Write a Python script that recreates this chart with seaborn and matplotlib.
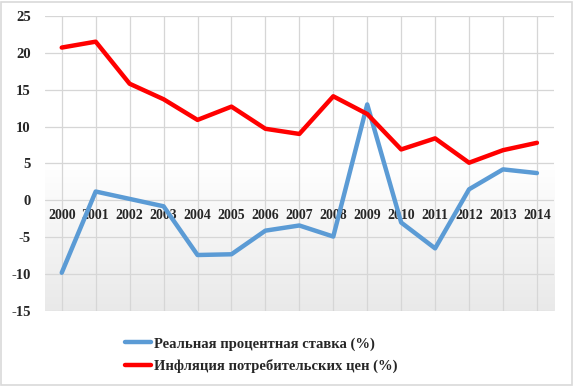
import numpy as np
import pandas as pd
import matplotlib
matplotlib.use("Agg")
from matplotlib import pyplot as plt
from matplotlib.patches import Rectangle
import seaborn as sns

sns.set_style("white")
plt.rcParams['font.family'] = ['Liberation Serif', 'DejaVu Serif']
plt.rcParams['font.weight'] = 'bold'

# data
years = list(range(2000, 2015))
real_rate = [-9.8, 1.2, 0.2, -0.8, -7.4, -7.3, -4.1, -3.4, -4.9, 13.0, -3.0, -6.5, 1.5, 4.2, 3.7]
inflation = [20.7, 21.5, 15.8, 13.7, 10.9, 12.7, 9.7, 9.0, 14.1, 11.7, 6.9, 8.4, 5.1, 6.8, 7.8]
name_real = "Реальная процентная ставка (%)"
name_infl = "Инфляция потребительских цен (%)"

df = pd.DataFrame({"year": years, name_real: real_rate, name_infl: inflation})
long_df = df.melt(id_vars="year", var_name="series", value_name="value")

fig = plt.figure(figsize=(5.74, 3.86), dpi=100)
ax = fig.add_axes([0.078, 0.194, 0.887, 0.765])

# soft vertical gradient background
grad = np.linspace(0, 1, 256).reshape(-1, 1)
ax.imshow(grad, extent=[1999.5, 2014.5, -15, 25], aspect='auto',
          cmap=matplotlib.colors.LinearSegmentedColormap.from_list("g", ["#ffffff", "#ffffff", "#e9e9e9"]),
          origin='upper', zorder=0)

sns.lineplot(data=long_df, x="year", y="value", hue="series",
             palette={name_real: "#5b9bd5", name_infl: "#ff0000"},
             linewidth=3.2, ax=ax, legend=False, zorder=3)

ax.set_xlim(1999.5, 2014.5)
ax.set_ylim(-15, 25)
ax.set_yticks(range(-15, 26, 5))
ax.set_xticks(years)
ax.set_xticklabels([str(y) for y in years], fontsize=10.5, fontweight='bold')
ax.set_yticklabels([str(v) for v in range(-15, 26, 5)], fontsize=10.5, fontweight='bold')
ax.grid(True, color="#d6d6d6", linewidth=0.9, zorder=1)
ax.set_axisbelow(True)
for s in ax.spines.values():
    s.set_visible(False)
ax.spines['bottom'].set_position(('data', 0))
ax.tick_params(axis='x', length=0, pad=6)
ax.tick_params(axis='y', length=0, pad=10)
ax.set_xlabel("")
ax.set_ylabel("")

handles = [plt.Line2D([], [], color="#5b9bd5", linewidth=3.2),
           plt.Line2D([], [], color="#ff0000", linewidth=3.2)]
fig.legend(handles, [name_real, name_infl], loc='lower center',
           bbox_to_anchor=(0.455, 0.0), ncol=1, frameon=False,
           prop={'size': 10.5, 'weight': 'bold'}, handlelength=1.8,
           handletextpad=0.15, labelspacing=0.55)

fig.patches.append(Rectangle((0.002, 0.003), 0.995, 0.993, transform=fig.transFigure,
                             fill=False, edgecolor="#d9d9d9", linewidth=1.2))

fig.savefig("out.png", dpi=100)
